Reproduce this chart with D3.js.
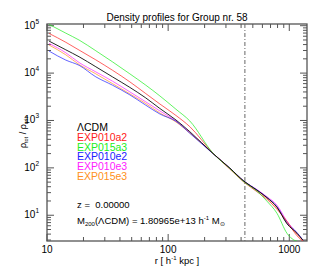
<!DOCTYPE html>
<html>
<head>
<meta charset="utf-8">
<script src="https://cdn.jsdelivr.net/npm/d3@7"></script>
<style>
  body { margin: 0; background: #fff; }
  svg { font-family: "Liberation Sans", Arial, sans-serif; }
</style>
</head>
<body>
<div id="chart"></div>
<script>
// radius grid [h^-1 kpc]
const radii = [10.4, 14.3, 18.4, 25.3, 34.7, 48.3, 65.4, 85.4, 116, 151, 234, 323, 422, 541, 654, 791, 957, 1158, 1298];

// density profiles rho / rho_crit
const lcdm     = [47400, 31000, 22100, 13600, 8330, 4990, 2990, 1790, 1025, 580, 202, 98.9, 52.5, 33.8, 23.5, 14.8, 6.6, 4.16, 2.96];
const exp010a2 = [68700, 44700, 30600, 19000, 11500, 6530, 3690, 2230, 1276, 740, 205, 94.2, 49.9, 31.4, 21.8, 13.4, 7.46, 3.68, 2.82];
const exp015a3 = [106600, 69700, 49800, 29600, 17300, 9640, 5560, 3300, 1726, 975, 205, 96.4, 50.7, 32.2, 19.8, 11.0, 4.16, 2.82, 2.7];
const exp010e2 = [29200, 18800, 14600, 8330, 5560, 3470, 2100, 1370, 962, 536, 200, 98.5, 52.5, 34.2, 23.8, 15.2, 7.0, 4.3, 2.96];
const exp010e3 = [42200, 26800, 16700, 10600, 6760, 4010, 2470, 1590, 975, 557, 202, 98.9, 52.5, 34.7, 24.6, 16.3, 7.46, 4.16, 2.96];
const exp015e3 = [39100, 24300, 15200, 9640, 6010, 3640, 2270, 1440, 930, 544, 202, 98.0, 52.0, 33.5, 23.2, 14.5, 6.8, 4.0, 2.9];

const seriesNames  = ["ΛCDM", "EXP010a2", "EXP015a3", "EXP010e2", "EXP010e3", "EXP015e3"];
const seriesValues = [lcdm, exp010a2, exp015a3, exp010e2, exp010e3, exp015e3];
const seriesColors = ["#000000", "#ff2020", "#20ee20", "#2020ff", "#ff20ff", "#ff9020"];
const drawOrder = [4, 5, 3, 1, 2, 0]; // black on top

const r200 = 430;
const xTicks = [10, 100, 1000];
const yTicks = [10, 100, 1000, 10000, 100000];
const yExps = ["1", "2", "3", "4", "5"];

const width = 319, height = 266;
const margin = { left: 47, right: 12, top: 24, bottom: 25 };

const svg = d3.select("#chart").append("svg")
  .attr("width", width)
  .attr("height", height);

const x = d3.scaleLog().domain([10, 1400]).range([margin.left, width - margin.right]);
const y = d3.scaleLog().domain([2.86, 108700]).range([height - margin.bottom, margin.top]);

const axisColor = "#555";

// clip
svg.append("clipPath").attr("id", "clip")
  .append("rect")
  .attr("x", x.range()[0]).attr("y", y.range()[1])
  .attr("width", x.range()[1] - x.range()[0])
  .attr("height", y.range()[0] - y.range()[1]);

// minor / major ticks
function decadeTicks(scale) {
  const [a, b] = scale.domain();
  const out = [];
  for (let e = Math.floor(Math.log10(a)); e <= Math.ceil(Math.log10(b)); e++) {
    for (let m = 1; m < 10; m++) {
      const v = m * Math.pow(10, e);
      if (v >= a && v <= b) out.push({ v: v, major: m === 1 });
    }
  }
  return out;
}

const gx = svg.append("g");
decadeTicks(x).forEach(t => {
  const len = t.major ? 7 : 4;
  const px = x(t.v);
  gx.append("line").attr("x1", px).attr("x2", px)
    .attr("y1", y.range()[0]).attr("y2", y.range()[0] - len)
    .attr("stroke", axisColor).attr("stroke-width", 1);
  gx.append("line").attr("x1", px).attr("x2", px)
    .attr("y1", y.range()[1]).attr("y2", y.range()[1] + len)
    .attr("stroke", axisColor).attr("stroke-width", 1);
});

const gy = svg.append("g");
decadeTicks(y).forEach(t => {
  const len = t.major ? 7 : 4;
  const py = y(t.v);
  gy.append("line").attr("y1", py).attr("y2", py)
    .attr("x1", x.range()[0]).attr("x2", x.range()[0] + len)
    .attr("stroke", axisColor).attr("stroke-width", 1);
  gy.append("line").attr("y1", py).attr("y2", py)
    .attr("x1", x.range()[1]).attr("x2", x.range()[1] - len)
    .attr("stroke", axisColor).attr("stroke-width", 1);
});

// frame
svg.append("rect")
  .attr("x", x.range()[0]).attr("y", y.range()[1])
  .attr("width", x.range()[1] - x.range()[0])
  .attr("height", y.range()[0] - y.range()[1])
  .attr("fill", "none")
  .attr("stroke", axisColor)
  .attr("stroke-width", 1.3);

// tick labels
svg.append("g").selectAll("text")
  .data(xTicks)
  .enter().append("text")
  .attr("x", d => x(d))
  .attr("y", height - 13)
  .attr("text-anchor", "middle")
  .style("font-size", "10px")
  .text(d => d);

const yl = svg.append("g").selectAll("text")
  .data(yTicks)
  .enter().append("text")
  .attr("x", x.range()[0] - 8)
  .attr("y", d => y(d) + 3)
  .attr("text-anchor", "end")
  .style("font-size", "10px");
yl.append("tspan").text("10");
yl.append("tspan").attr("dy", -5).style("font-size", "6.5px").text((d, i) => yExps[i]);

// r200 line
svg.append("line")
  .attr("x1", x(r200)).attr("x2", x(r200))
  .attr("y1", y.range()[1]).attr("y2", y.range()[0])
  .attr("stroke", "#666")
  .attr("stroke-width", 1)
  .attr("stroke-dasharray", "4,2,1,2");

// profiles
const line = d3.line()
  .x((d, i) => x(radii[i]))
  .y(d => y(d))
  .curve(d3.curveMonotoneX);

const plot = svg.append("g").attr("clip-path", "url(#clip)");
drawOrder.forEach(k => {
  plot.append("path")
    .datum(seriesValues[k])
    .attr("d", line)
    .attr("fill", "none")
    .attr("stroke", seriesColors[k])
    .attr("stroke-opacity", k === 0 ? 0.85 : 0.7)
    .attr("stroke-width", 1);
});

// legend
svg.append("g").selectAll("text")
  .data(seriesNames)
  .enter().append("text")
  .attr("x", 77)
  .attr("y", (d, i) => 131 + i * 9.8)
  .style("font-size", "10.5px")
  .attr("fill", (d, i) => seriesColors[i])
  .text(d => d);

svg.append("text")
  .attr("x", 77).attr("y", 208)
  .style("font-size", "9.5px")
  .style("white-space", "pre")
  .text("z =  0.00000");

const mt = svg.append("text")
  .attr("x", 77).attr("y", 224)
  .style("font-size", "9.5px");
mt.append("tspan").text("M");
mt.append("tspan").attr("dy", 2).style("font-size", "6px").text("200");
mt.append("tspan").attr("dy", -2).text("(ΛCDM) = 1.80965e+13 h");
mt.append("tspan").attr("dy", -4).style("font-size", "6px").text("-1");
mt.append("tspan").attr("dy", 4).text(" M");
mt.append("tspan").attr("dy", 2).style("font-size", "6px").text("⊙");

// title
svg.append("text")
  .attr("x", 177).attr("y", 21)
  .attr("text-anchor", "middle")
  .style("font-size", "10px")
  .text("Density profiles for Group nr. 58");

// x label
const xl = svg.append("text")
  .attr("x", 177).attr("y", height - 2)
  .attr("text-anchor", "middle")
  .style("font-size", "9.5px");
xl.append("tspan").text("r [ h");
xl.append("tspan").attr("dy", -4).style("font-size", "6px").text("-1");
xl.append("tspan").attr("dy", 4).text(" kpc ]");

// y label
const ylab = svg.append("text")
  .attr("transform", `translate(26, ${(y.range()[0] + y.range()[1]) / 2}) rotate(-90)`)
  .attr("text-anchor", "middle")
  .style("font-size", "9px");
ylab.append("tspan").text("ρ");
ylab.append("tspan").attr("dy", 2).style("font-size", "5.5px").text("tot");
ylab.append("tspan").attr("dy", -2).text(" / ρ");
ylab.append("tspan").attr("dy", 2).style("font-size", "5.5px").text("crit");
</script>
</body>
</html>
